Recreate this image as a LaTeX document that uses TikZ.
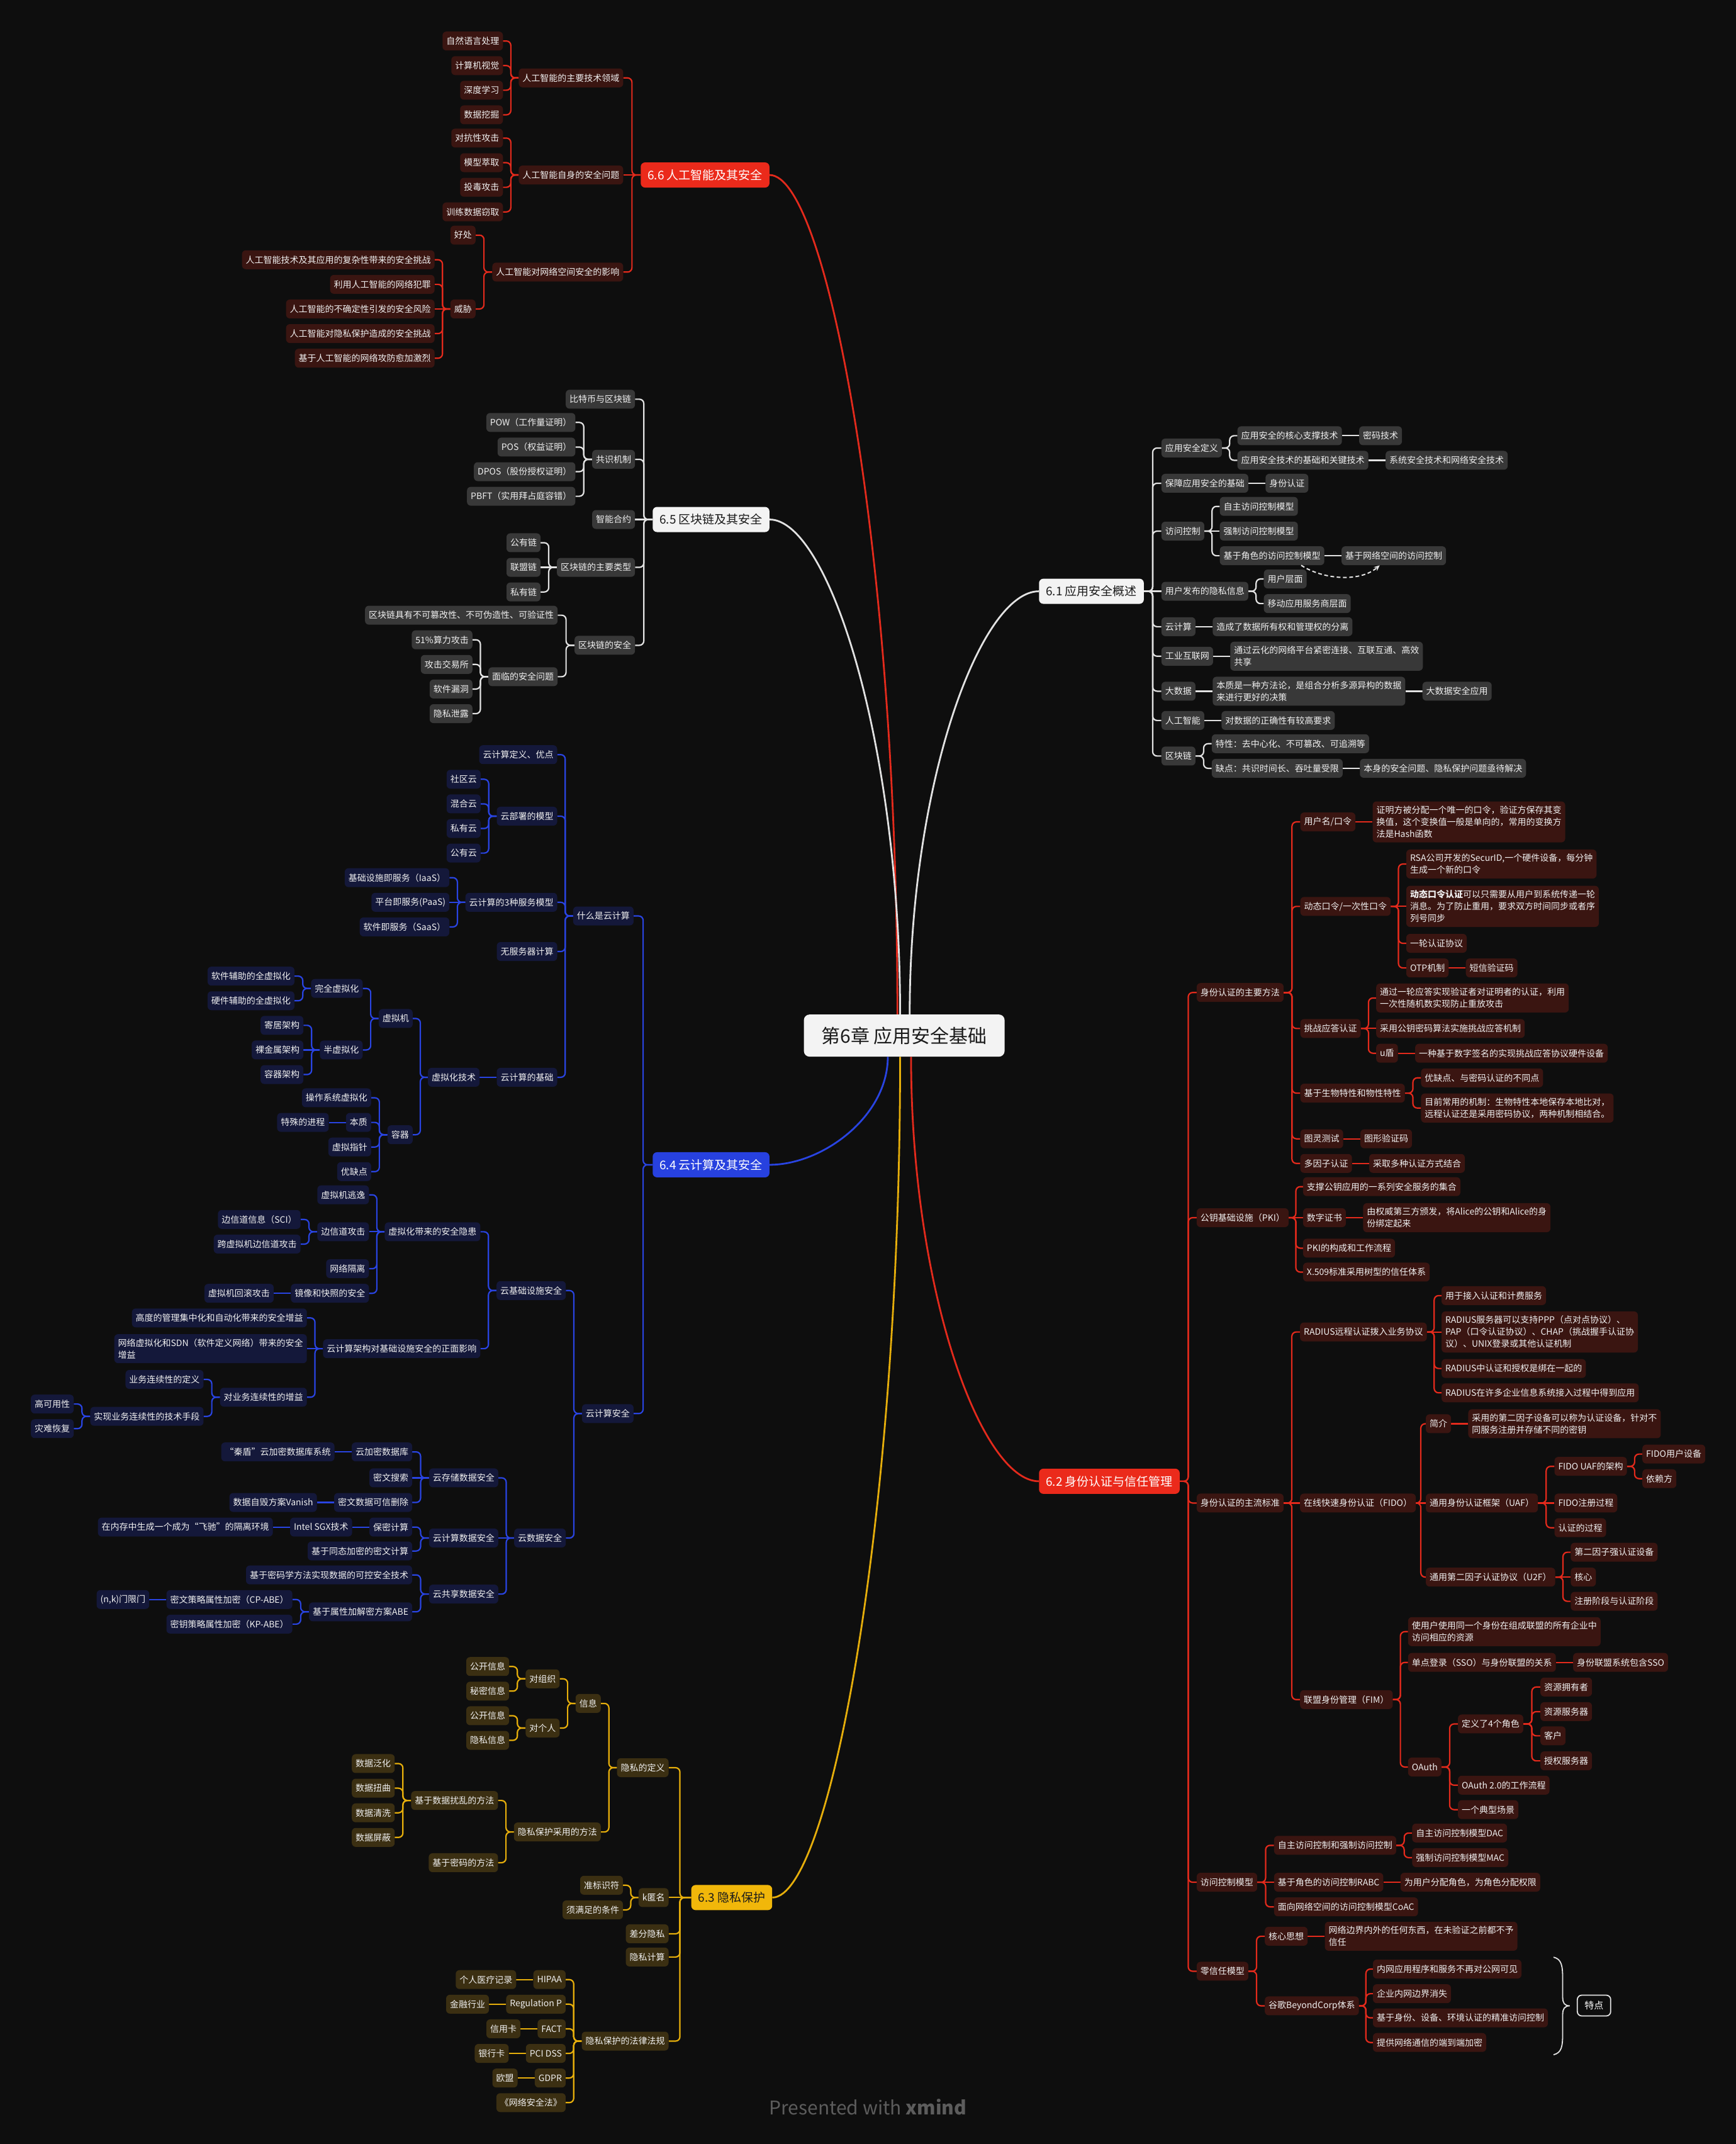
\documentclass[tikz,border=0pt]{standalone}
\usepackage{fontspec}
\setmainfont{Noto Sans CJK SC}
\usetikzlibrary{positioning,calc,arrows.meta}
\definecolor{colBg}{HTML}{0E0E0E}
\definecolor{colRed}{HTML}{EB2A1B}
\definecolor{colRline}{HTML}{E32A1C}
\definecolor{colRsub}{HTML}{3A1511}
\definecolor{colWht}{HTML}{F3F3F3}
\definecolor{colWline}{HTML}{E2E2E2}
\definecolor{colWsub}{HTML}{383838}
\definecolor{colBlu}{HTML}{2741DF}
\definecolor{colBline}{HTML}{2944E2}
\definecolor{colBsub}{HTML}{14183A}
\definecolor{colYel}{HTML}{F1B70A}
\definecolor{colYline}{HTML}{E6AE0B}
\definecolor{colYsub}{HTML}{3B2F12}
\definecolor{colTxt}{HTML}{F0F0F0}
\definecolor{colDark}{HTML}{1B1B1B}
\definecolor{colFoot}{HTML}{5C5C5C}
\pgfdeclarelayer{back}
\pgfdeclarelayer{bg}
\pgfsetlayers{back,bg,main}
\newcommand\ER[3]{\draw[#1] let \p1=(#2.east),\p2=(#3.west) in (\p1) -- ({(\x1+\x2)/2},\y1) |- (\p2);}
\newcommand\EL[3]{\draw[#1] let \p1=(#2.west),\p2=(#3.east) in (\p1) -- ({(\x1+\x2)/2},\y1) |- (\p2);}
\newcommand\SR[3]{\draw[#1] (#2.east) -- (#3.west);}
\newcommand\SL[3]{\draw[#1] (#2.west) -- (#3.east);}
\newcommand\CV[3]{\draw[#1] (#2) .. controls ($(#2)!0.55!(#2 |- #3)$) and ($(#3)!0.45!(#2 |- #3)$) .. (#3);}
\tikzset{
  nsub/.style={rounded corners=6pt, inner xsep=6pt, inner ysep=7pt, minimum height=30pt, font=\fontsize{14}{19}\selectfont, text=colTxt, align=left},
  nR/.style={nsub, fill=colRsub},
  nW/.style={nsub, fill=colWsub},
  nB/.style={nsub, fill=colBsub},
  nY/.style={nsub, fill=colYsub},
  ntop/.style={rounded corners=7pt, inner xsep=11pt, inner ysep=4pt, minimum height=40pt, font=\fontsize{19}{23}\selectfont},
  tR/.style={ntop, fill=colRed, text=white},
  tW/.style={ntop, fill=colWht, text=colDark},
  tB/.style={ntop, fill=colBlu, text=white},
  tY/.style={ntop, fill=colYel, text=colDark},
  LE/.style={anchor=east},
  RW/.style={anchor=west},
  conn/.style={line width=2.2pt, rounded corners=7pt},
  lR/.style={conn, draw=colRline},
  lW/.style={conn, draw=colWline},
  lB/.style={conn, draw=colBline},
  lY/.style={conn, draw=colYline},
  curv/.style={line width=2.8pt},
  vR/.style={curv, draw=colRline},
  vW/.style={curv, draw=colWline},
  vB/.style={curv, draw=colBline},
  vY/.style={curv, draw=colYline},
  rootnode/.style={fill=colWht, text=colDark, rounded corners=9pt, minimum width=319pt, minimum height=67pt, font=\fontsize{30}{34}\selectfont},
  sumbox/.style={draw=colWline, line width=1.8pt, fill=colBg, rounded corners=7pt, text=white, font=\fontsize{15}{18}\selectfont, minimum width=53pt, minimum height=33pt},
  relline/.style={draw=colWline, line width=2pt, dash pattern=on 6pt off 4pt, -{Stealth[length=9pt,width=8pt]}},
  bracel/.style={draw=colWline, line width=1.8pt},
  footer/.style={text=colFoot, font=\fontsize{30}{34}\selectfont}
}
\begin{document}
\begin{tikzpicture}[x=2.17244pt, y=-2.17244pt]
\begin{pgfonlayer}{back}
\fill[colBg] (0,0) rectangle (1270,1568.28);
\end{pgfonlayer}
\useasboundingbox (0,0) rectangle (1270,1568.28);

\node[rootnode] (c) at (661.5,757.5) {第6章 应用安全基础};

% ===== 6.6
\node[tR,LE] (a) at (563,128) {6.6 人工智能及其安全};
\node[nR,LE] (a1) at (456,57) {人工智能的主要技术领域};
\node[nR,LE] (a2) at (456,128) {人工智能自身的安全问题};
\node[nR,LE] (a3) at (456,199) {人工智能对网络空间安全的影响};
\node[nR,LE] (a11) at (368,30) {自然语言处理};
\node[nR,LE] (a12) at (368,48) {计算机视觉};
\node[nR,LE] (a13) at (368,66) {深度学习};
\node[nR,LE] (a14) at (368,84) {数据挖掘};
\node[nR,LE] (a21) at (368,101) {对抗性攻击};
\node[nR,LE] (a22) at (368,119) {模型萃取};
\node[nR,LE] (a23) at (368,137) {投毒攻击};
\node[nR,LE] (a24) at (368,155) {训练数据窃取};
\node[nR,LE] (a31) at (348,172) {好处};
\node[nR,LE] (a32) at (348,226) {威胁};
\node[nR,LE] (a321) at (318,190) {人工智能技术及其应用的复杂性带来的安全挑战};
\node[nR,LE] (a322) at (318,208) {利用人工智能的网络犯罪};
\node[nR,LE] (a323) at (318,226) {人工智能的不确定性引发的安全风险};
\node[nR,LE] (a324) at (318,244) {人工智能对隐私保护造成的安全挑战};
\node[nR,LE] (a325) at (318,262) {基于人工智能的网络攻防愈加激烈};

% ===== 6.5
\node[tW,LE] (b) at (563,380) {6.5 区块链及其安全};
\node[nW,LE] (b1) at (464.6,292) {比特币与区块链};
\node[nW,LE] (b2) at (464.6,336) {共识机制};
\node[nW,LE] (b3) at (464.6,380) {智能合约};
\node[nW,LE] (b4) at (464.6,415) {区块链的主要类型};
\node[nW,LE] (b5) at (464.6,472) {区块链的安全};
\node[nW,LE] (b21) at (421,309) {POW（工作量证明）};
\node[nW,LE] (b22) at (421,327) {POS（权益证明）};
\node[nW,LE] (b23) at (421,345) {DPOS（股份授权证明）};
\node[nW,LE] (b24) at (421,363) {PBFT（实用拜占庭容错）};
\node[nW,LE] (b41) at (395.5,397) {公有链};
\node[nW,LE] (b42) at (395.5,415) {联盟链};
\node[nW,LE] (b43) at (395.5,433) {私有链};
\node[nW,LE] (b51) at (408,450) {区块链具有不可篡改性、不可伪造性、可验证性};
\node[nW,LE] (b52) at (408,495) {面临的安全问题};
\node[nW,LE] (b521) at (345.7,468) {51\%算力攻击};
\node[nW,LE] (b522) at (345.7,486) {攻击交易所};
\node[nW,LE] (b523) at (345.7,504) {软件漏洞};
\node[nW,LE] (b524) at (345.7,522) {隐私泄露};

% ===== 6.4
\node[tB,LE] (d) at (563,852) {6.4 云计算及其安全};
\node[nB,LE] (d1) at (463.6,670) {什么是云计算};
\node[nB,LE] (d2) at (463.6,1034) {云计算安全};
\node[nB,LE] (d11) at (407.7,552) {云计算定义、优点};
\node[nB,LE] (d12) at (407.7,597) {云部署的模型};
\node[nB,LE] (d13) at (407.7,660) {云计算的3种服务模型};
\node[nB,LE] (d14) at (407.7,696) {无服务器计算};
\node[nB,LE] (d15) at (407.7,788) {云计算的基础};
\node[nB,LE] (d121) at (351.7,570) {社区云};
\node[nB,LE] (d122) at (351.7,588) {混合云};
\node[nB,LE] (d123) at (351.7,606) {私有云};
\node[nB,LE] (d124) at (351.7,624) {公有云};
\node[nB,LE] (d131) at (328.8,642) {基础设施即服务（IaaS）};
\node[nB,LE] (d132) at (328.8,660) {平台即服务(PaaS)};
\node[nB,LE] (d133) at (328.8,678) {软件即服务（SaaS）};
\node[nB,left=27pt of d15] (v) {虚拟化技术};
\node[nB,LE] (v1) at (302,745) {虚拟机};
\node[nB,LE] (v2) at (302,830) {容器};
\node[nB,LE] (v11) at (265.4,723) {完全虚拟化};
\node[nB,LE] (v12) at (265.4,768) {半虚拟化};
\node[nB,LE] (v111) at (215.5,714) {软件辅助的全虚拟化};
\node[nB,LE] (v112) at (215.5,732) {硬件辅助的全虚拟化};
\node[nB,LE] (v121) at (222,750) {寄居架构};
\node[nB,LE] (v122) at (222,768) {裸金属架构};
\node[nB,LE] (v123) at (222,786) {容器架构};
\node[nB,LE] (v21) at (271.6,803) {操作系统虚拟化};
\node[nB,LE] (v22) at (271.6,821) {本质};
\node[nB,LE] (v23) at (271.6,839) {虚拟指针};
\node[nB,LE] (v24) at (271.6,857) {优缺点};
\node[nB,left=27pt of v22] (v221) {特殊的进程};
\node[nB,LE] (d21) at (414,944) {云基础设施安全};
\node[nB,LE] (d22) at (414,1125) {云数据安全};
\node[nB,LE] (d211) at (351.5,901) {虚拟化带来的安全隐患};
\node[nB,LE] (d212) at (351.5,986.5) {云计算架构对基础设施安全的正面影响};
\node[nB,LE] (x1) at (270,874) {虚拟机逃逸};
\node[nB,LE] (x2) at (270,901) {边信道攻击};
\node[nB,LE] (x3) at (270,928) {网络隔离};
\node[nB,LE] (x4) at (270,946) {镜像和快照的安全};
\node[nB,LE] (x21) at (220,892) {边信道信息（SCI）};
\node[nB,LE] (x22) at (220,910) {跨虚拟机边信道攻击};
\node[nB,left=27pt of x4] (x41) {虚拟机回滚攻击};
\node[nB,LE] (y1) at (224.6,964) {高度的管理集中化和自动化带来的安全增益};
\node[nB,LE] (y2) at (224.6,986.5) {网络虚拟化和SDN（软件定义网络）带来的安全\\增益};
\node[nB,LE] (y3) at (224.6,1022) {对业务连续性的增益};
\node[nB,LE] (y31) at (149,1009) {业务连续性的定义};
\node[nB,LE] (y32) at (149,1036) {实现业务连续性的技术手段};
\node[nB,LE] (y321) at (54,1027) {高可用性};
\node[nB,LE] (y322) at (54,1045) {灾难恢复};
\node[nB,LE] (z1) at (364.6,1081) {云存储数据安全};
\node[nB,LE] (z2) at (364.6,1125) {云计算数据安全};
\node[nB,LE] (z3) at (364.6,1166) {云共享数据安全};
\node[nB,LE] (z11) at (301.6,1062) {云加密数据库};
\node[nB,LE] (z12) at (301.6,1081) {密文搜索};
\node[nB,LE] (z13) at (301.6,1099) {密文数据可信删除};
\node[nB,left=27pt of z11] (z111) {“秦盾”云加密数据库系统};
\node[nB,left=27pt of z13] (z131) {数据自毁方案Vanish};
\node[nB,LE] (z21) at (301.6,1117) {保密计算};
\node[nB,LE] (z22) at (301.6,1134.5) {基于同态加密的密文计算};
\node[nB,left=27pt of z21] (z211) {Intel SGX技术};
\node[nB,left=27pt of z211] (z2111) {在内存中生成一个成为“飞驰”的隔离环境};
\node[nB,LE] (z31) at (301.6,1152) {基于密码学方法实现数据的可控安全技术};
\node[nB,LE] (z32) at (301.6,1179) {基于属性加解密方案ABE};
\node[nB,LE] (z321) at (214,1170) {密文策略属性加密（CP-ABE）};
\node[nB,LE] (z322) at (214,1188) {密钥策略属性加密（KP-ABE）};
\node[nB,left=27pt of z321] (z3211) {(n,k)门限门};

% ===== 6.3
\node[tY,LE] (e) at (565,1388) {6.3 隐私保护};
\node[nY,LE] (e1) at (489.2,1293) {隐私的定义};
\node[nY,LE] (e2) at (489.2,1388) {k匿名};
\node[nY,LE] (e3) at (489.2,1414.5) {差分隐私};
\node[nY,LE] (e4) at (489.2,1431.5) {隐私计算};
\node[nY,LE] (e5) at (489.2,1493) {隐私保护的法律法规};
\node[nY,LE] (e11) at (439.6,1246) {信息};
\node[nY,LE] (e12) at (439.6,1340) {隐私保护采用的方法};
\node[nY,LE] (e111) at (409.5,1228) {对组织};
\node[nY,LE] (e112) at (409.5,1264) {对个人};
\node[nY,LE] (e1111) at (372.5,1219) {公开信息};
\node[nY,LE] (e1112) at (372.5,1237) {秘密信息};
\node[nY,LE] (e1121) at (372.5,1255) {公开信息};
\node[nY,LE] (e1122) at (372.5,1273) {隐私信息};
\node[nY,LE] (e121) at (364.4,1317) {基于数据扰乱的方法};
\node[nY,LE] (e122) at (364.4,1362.5) {基于密码的方法};
\node[nY,LE] (e1211) at (288.8,1290) {数据泛化};
\node[nY,LE] (e1212) at (288.8,1308) {数据扭曲};
\node[nY,LE] (e1213) at (288.8,1326) {数据清洗};
\node[nY,LE] (e1214) at (288.8,1344) {数据屏蔽};
\node[nY,LE] (e21) at (455.8,1379) {准标识符};
\node[nY,LE] (e22) at (455.8,1397) {须满足的条件};
\node[nY,LE] (e51) at (413.9,1448) {HIPAA};
\node[nY,LE] (e52) at (413.9,1466) {Regulation P};
\node[nY,LE] (e53) at (413.9,1484) {FACT};
\node[nY,LE] (e54) at (413.9,1502) {PCI DSS};
\node[nY,LE] (e55) at (413.9,1520) {GDPR};
\node[nY,LE] (e56) at (413.9,1538) {《网络安全法》};
\node[nY,left=27pt of e51] (e511) {个人医疗记录};
\node[nY,left=27pt of e52] (e521) {金融行业};
\node[nY,left=27pt of e53] (e531) {信用卡};
\node[nY,left=27pt of e54] (e541) {银行卡};
\node[nY,left=27pt of e55] (e551) {欧盟};

% ===== 6.1
\node[tW,RW] (f) at (760,432.5) {6.1 应用安全概述};
\node[nW,RW] (f1) at (849.6,327.7) {应用安全定义};
\node[nW,RW] (f2) at (849.6,353.5) {保障应用安全的基础};
\node[nW,RW] (f3) at (849.6,388.5) {访问控制};
\node[nW,RW] (f4) at (849.6,432.5) {用户发布的隐私信息};
\node[nW,RW] (f5) at (849.6,458.4) {云计算};
\node[nW,RW] (f6) at (849.6,480) {工业互联网};
\node[nW,RW] (f7) at (849.6,505.6) {大数据};
\node[nW,RW] (f8) at (849.6,527) {人工智能};
\node[nW,RW] (f9) at (849.6,553) {区块链};
\node[nW,RW] (f11) at (905.2,318.7) {应用安全的核心支撑技术};
\node[nW,RW] (f12) at (905.2,336.7) {应用安全技术的基础和关键技术};
\node[nW,right=27pt of f11] (f111) {密码技术};
\node[nW,right=27pt of f12] (f121) {系统安全技术和网络安全技术};
\node[nW,right=27pt of f2] (f21) {身份认证};
\node[nW,RW] (f31) at (892.3,370.4) {自主访问控制模型};
\node[nW,RW] (f32) at (892.3,388.5) {强制访问控制模型};
\node[nW,RW] (f33) at (892.3,406.5) {基于角色的访问控制模型};
\node[nW,right=27pt of f33] (f331) {基于网络空间的访问控制};
\node[nW,RW] (f41) at (924.5,423.5) {用户层面};
\node[nW,RW] (f42) at (924.5,441.5) {移动应用服务商层面};
\node[nW,right=27pt of f5] (f51) {造成了数据所有权和管理权的分离};
\node[nW,right=27pt of f6] (f61) {通过云化的网络平台紧密连接、互联互通、高效\\共享};
\node[nW,right=27pt of f7] (f71) {本质是一种方法论，是组合分析多源异构的数据\\来进行更好的决策};
\node[nW,right=27pt of f71] (f711) {大数据安全应用};
\node[nW,right=27pt of f8] (f81) {对数据的正确性有较高要求};
\node[nW,RW] (f91) at (886.4,544) {特性：去中心化、不可篡改、可追溯等};
\node[nW,RW] (f92) at (886.4,562) {缺点：共识时间长、吞吐量受限};
\node[nW,right=27pt of f92] (f921) {本身的安全问题、隐私保护问题亟待解决};

% ===== 6.2
\node[tR,RW] (g) at (760,1083.5) {6.2 身份认证与信任管理};
\node[nR,RW] (g1) at (875.4,726) {身份认证的主要方法};
\node[nR,RW] (g2) at (875.4,890.7) {公钥基础设施（PKI）};
\node[nR,RW] (g3) at (875.4,1099.4) {身份认证的主流标准};
\node[nR,RW] (g4) at (875.4,1376.8) {访问控制模型};
\node[nR,RW] (g5) at (875.4,1441.9) {零信任模型};
\node[nR,RW] (h1) at (951.2,601.2) {用户名/口令};
\node[nR,RW] (h2) at (951.2,663) {动态口令/一次性口令};
\node[nR,RW] (h3) at (951.2,752.3) {挑战应答认证};
\node[nR,RW] (h4) at (951.2,799.6) {基于生物特性和物性特性};
\node[nR,RW] (h5) at (951.2,833) {图灵测试};
\node[nR,RW] (h6) at (951.2,851) {多因子认证};
\node[nR,right=27pt of h1] (h11) {证明方被分配一个唯一的口令，验证方保存其变\\换值，这个变换值一般是单向的，常用的变换方\\法是Hash函数};
\node[nR,RW] (h21) at (1028.7,632) {RSA公司开发的SecurID,一个硬件设备，每分钟\\生成一个新的口令};
\node[nR,RW] (h22) at (1028.7,663) {{\bfseries 动态口令认证}可以只需要从用户到系统传递一轮\\消息。为了防止重用，要求双方时间同步或者序\\列号同步};
\node[nR,RW] (h23) at (1028.7,690) {一轮认证协议};
\node[nR,RW] (h24) at (1028.7,708) {OTP机制};
\node[nR,right=27pt of h24] (h241) {短信验证码};
\node[nR,RW] (h31) at (1006.7,730) {通过一轮应答实现验证者对证明者的认证，利用\\一次性随机数实现防止重放攻击};
\node[nR,RW] (h32) at (1006.7,752.3) {采用公钥密码算法实施挑战应答机制};
\node[nR,RW] (h33) at (1006.7,770.4) {u盾};
\node[nR,right=27pt of h33] (h331) {一种基于数字签名的实现挑战应答协议硬件设备};
\node[nR,RW] (h41) at (1039.5,788.4) {优缺点、与密码认证的不同点};
\node[nR,RW] (h42) at (1039.5,810.5) {目前常用的机制：生物特性本地保存本地比对，\\远程认证还是采用密码协议，两种机制相结合。};
\node[nR,right=27pt of h5] (h51) {图形验证码};
\node[nR,right=27pt of h6] (h61) {采取多种认证方式结合};
\node[nR,RW] (p1) at (953.2,868) {支撑公钥应用的一系列安全服务的集合};
\node[nR,RW] (p2) at (953.2,890.7) {数字证书};
\node[nR,right=27pt of p2] (p21) {由权威第三方颁发，将Alice的公钥和Alice的身\\份绑定起来};
\node[nR,RW] (p3) at (953.2,913) {PKI的构成和工作流程};
\node[nR,RW] (p4) at (953.2,930.5) {X.509标准采用树型的信任体系};
\node[nR,RW] (q1) at (951,974.3) {RADIUS远程认证拨入业务协议};
\node[nR,RW] (q2) at (951,1099.4) {在线快速身份认证（FIDO）};
\node[nR,RW] (q3) at (951,1243.2) {联盟身份管理（FIM）};
\node[nR,RW] (q11) at (1054.5,947.7) {用于接入认证和计费服务};
\node[nR,RW] (q12) at (1054.5,974.3) {RADIUS服务器可以支持PPP（点对点协议）、\\PAP（口令认证协议）、CHAP（挑战握手认证协\\议）、UNIX登录或其他认证机制};
\node[nR,RW] (q13) at (1054.5,1001) {RADIUS中认证和授权是绑在一起的};
\node[nR,RW] (q14) at (1054.5,1018.8) {RADIUS在许多企业信息系统接入过程中得到应用};
\node[nR,RW] (r1) at (1043,1041.4) {简介};
\node[nR,right=27pt of r1] (r11) {采用的第二因子设备可以称为认证设备，针对不\\同服务注册并存储不同的密钥};
\node[nR,RW] (r2) at (1043,1099.4) {通用身份认证框架（UAF）};
\node[nR,RW] (r3) at (1043,1153.6) {通用第二因子认证协议（U2F）};
\node[nR,RW] (r21) at (1137.1,1072.6) {FIDO UAF的架构};
\node[nR,RW] (r22) at (1137.1,1099.4) {FIDO注册过程};
\node[nR,RW] (r23) at (1137.1,1117.5) {认证的过程};
\node[nR,RW] (r211) at (1201.4,1063.6) {FIDO用户设备};
\node[nR,RW] (r212) at (1201.4,1081.6) {依赖方};
\node[nR,RW] (r31) at (1149,1135.4) {第二因子强认证设备};
\node[nR,RW] (r32) at (1149,1153.6) {核心};
\node[nR,RW] (r33) at (1149,1171.3) {注册阶段与认证阶段};
\node[nR,RW] (s1) at (1030,1193.5) {使用户使用同一个身份在组成联盟的所有企业中\\访问相应的资源};
\node[nR,RW] (s2) at (1030,1216) {单点登录（SSO）与身份联盟的关系};
\node[nR,right=27pt of s2] (s21) {身份联盟系统包含SSO};
\node[nR,RW] (s3) at (1030,1292.5) {OAuth};
\node[nR,RW] (s31) at (1066.5,1261) {定义了4个角色};
\node[nR,RW] (s32) at (1066.5,1305.8) {OAuth 2.0的工作流程};
\node[nR,RW] (s33) at (1066.5,1323.7) {一个典型场景};
\node[nR,RW] (s311) at (1126.8,1234) {资源拥有者};
\node[nR,RW] (s312) at (1126.8,1252) {资源服务器};
\node[nR,RW] (s313) at (1126.8,1269.7) {客户};
\node[nR,RW] (s314) at (1126.8,1288) {授权服务器};
\node[nR,RW] (t1) at (932,1349.8) {自主访问控制和强制访问控制};
\node[nR,RW] (t2) at (932,1376.8) {基于角色的访问控制RABC};
\node[nR,RW] (t3) at (932,1394.8) {面向网络空间的访问控制模型CoAC};
\node[nR,right=27pt of t2] (t21) {为用户分配角色，为角色分配权限};
\node[nR,RW] (t11) at (1033,1340.8) {自主访问控制模型DAC};
\node[nR,RW] (t12) at (1033,1358.8) {强制访问控制模型MAC};
\node[nR,RW] (u1) at (925.2,1416.3) {核心思想};
\node[nR,right=27pt of u1] (u11) {网络边界内外的任何东西，在未验证之前都不予\\信任};
\node[nR,RW] (u2) at (925.2,1467.2) {谷歌BeyondCorp体系};
\node[nR,RW] (u21) at (1004.3,1440.3) {内网应用程序和服务不再对公网可见};
\node[nR,RW] (u22) at (1004.3,1458.3) {企业内网边界消失};
\node[nR,RW] (u23) at (1004.3,1476) {基于身份、设备、环境认证的精准访问控制};
\node[nR,RW] (u24) at (1004.3,1494) {提供网络通信的端到端加密};

% summary
\node[sumbox,anchor=west] (td) at (1153.5,1467) {特点};
\coordinate (brtip) at (1148.4,1467.2);
\draw[bracel] (1136.5,1431.6) .. controls (1142.5,1433) and (1143.2,1438) .. (1143.2,1448) -- (1143.2,1461) .. controls (1143.2,1465) and (1144.5,1467.2) .. (brtip) .. controls (1144.5,1467.2) and (1143.2,1469.5) .. (1143.2,1473.5) -- (1143.2,1487) .. controls (1143.2,1497) and (1142.5,1501.5) .. (1136.5,1503);

% footer
\node[footer] (ft) at (635,1541) {Presented with \textbf{xmind}};

\begin{pgfonlayer}{bg}
\coordinate (sNW) at ($(c.north)+(-5,0)$);
\coordinate (sNW2) at ($(c.north)+(-3,0)$);
\coordinate (sNE) at ($(c.north)+(4,0)$);
\coordinate (sSW) at ($(c.south)+(-12,0)$);
\coordinate (sSW2) at ($(c.south)+(-3,0)$);
\coordinate (sSE) at ($(c.south)+(5,0)$);
\CV{vR}{sNW}{a.east}
\CV{vW}{sNW2}{b.east}
\CV{vW}{sNE}{f.west}
\CV{vB}{sSW}{d.east}
\CV{vY}{sSW2}{e.east}
\CV{vR}{sSE}{g.west}
% 6.6
\EL{lR}{a}{a1} \SL{lR}{a}{a2} \EL{lR}{a}{a3}
\EL{lR}{a1}{a11} \EL{lR}{a1}{a12} \EL{lR}{a1}{a13} \EL{lR}{a1}{a14}
\EL{lR}{a2}{a21} \EL{lR}{a2}{a22} \EL{lR}{a2}{a23} \EL{lR}{a2}{a24}
\EL{lR}{a3}{a31} \EL{lR}{a3}{a32}
\EL{lR}{a32}{a321} \EL{lR}{a32}{a322} \SL{lR}{a32}{a323} \EL{lR}{a32}{a324} \EL{lR}{a32}{a325}
% 6.5
\EL{lW}{b}{b1} \EL{lW}{b}{b2} \SL{lW}{b}{b3} \EL{lW}{b}{b4} \EL{lW}{b}{b5}
\EL{lW}{b2}{b21} \EL{lW}{b2}{b22} \EL{lW}{b2}{b23} \EL{lW}{b2}{b24}
\EL{lW}{b4}{b41} \SL{lW}{b4}{b42} \EL{lW}{b4}{b43}
\EL{lW}{b5}{b51} \EL{lW}{b5}{b52}
\EL{lW}{b52}{b521} \EL{lW}{b52}{b522} \EL{lW}{b52}{b523} \EL{lW}{b52}{b524}
% 6.4
\EL{lB}{d}{d1} \EL{lB}{d}{d2}
\EL{lB}{d1}{d11} \EL{lB}{d1}{d12} \EL{lB}{d1}{d13} \EL{lB}{d1}{d14} \EL{lB}{d1}{d15}
\EL{lB}{d12}{d121} \EL{lB}{d12}{d122} \EL{lB}{d12}{d123} \EL{lB}{d12}{d124}
\EL{lB}{d13}{d131} \SL{lB}{d13}{d132} \EL{lB}{d13}{d133}
\SL{lB}{d15}{v}
\EL{lB}{v}{v1} \EL{lB}{v}{v2}
\EL{lB}{v1}{v11} \EL{lB}{v1}{v12}
\EL{lB}{v11}{v111} \EL{lB}{v11}{v112}
\EL{lB}{v12}{v121} \SL{lB}{v12}{v122} \EL{lB}{v12}{v123}
\EL{lB}{v2}{v21} \EL{lB}{v2}{v22} \EL{lB}{v2}{v23} \EL{lB}{v2}{v24}
\SL{lB}{v22}{v221}
\EL{lB}{d2}{d21} \EL{lB}{d2}{d22}
\EL{lB}{d21}{d211} \EL{lB}{d21}{d212}
\EL{lB}{d211}{x1} \SL{lB}{d211}{x2} \EL{lB}{d211}{x3} \EL{lB}{d211}{x4}
\EL{lB}{x2}{x21} \EL{lB}{x2}{x22}
\SL{lB}{x4}{x41}
\EL{lB}{d212}{y1} \SL{lB}{d212}{y2} \EL{lB}{d212}{y3}
\EL{lB}{y3}{y31} \EL{lB}{y3}{y32}
\EL{lB}{y32}{y321} \EL{lB}{y32}{y322}
\EL{lB}{d22}{z1} \SL{lB}{d22}{z2} \EL{lB}{d22}{z3}
\EL{lB}{z1}{z11} \SL{lB}{z1}{z12} \EL{lB}{z1}{z13}
\SL{lB}{z11}{z111} \SL{lB}{z13}{z131}
\EL{lB}{z2}{z21} \EL{lB}{z2}{z22}
\SL{lB}{z21}{z211} \SL{lB}{z211}{z2111}
\EL{lB}{z3}{z31} \EL{lB}{z3}{z32}
\EL{lB}{z32}{z321} \EL{lB}{z32}{z322}
\SL{lB}{z321}{z3211}
% 6.3
\EL{lY}{e}{e1} \SL{lY}{e}{e2} \EL{lY}{e}{e3} \EL{lY}{e}{e4} \EL{lY}{e}{e5}
\EL{lY}{e1}{e11} \EL{lY}{e1}{e12}
\EL{lY}{e11}{e111} \EL{lY}{e11}{e112}
\EL{lY}{e111}{e1111} \EL{lY}{e111}{e1112}
\EL{lY}{e112}{e1121} \EL{lY}{e112}{e1122}
\EL{lY}{e12}{e121} \EL{lY}{e12}{e122}
\EL{lY}{e121}{e1211} \EL{lY}{e121}{e1212} \EL{lY}{e121}{e1213} \EL{lY}{e121}{e1214}
\EL{lY}{e2}{e21} \EL{lY}{e2}{e22}
\EL{lY}{e5}{e51} \EL{lY}{e5}{e52} \EL{lY}{e5}{e53} \EL{lY}{e5}{e54} \EL{lY}{e5}{e55} \EL{lY}{e5}{e56}
\SL{lY}{e51}{e511} \SL{lY}{e52}{e521} \SL{lY}{e53}{e531} \SL{lY}{e54}{e541} \SL{lY}{e55}{e551}
% 6.1
\ER{lW}{f}{f1} \ER{lW}{f}{f2} \ER{lW}{f}{f3} \SR{lW}{f}{f4} \ER{lW}{f}{f5} \ER{lW}{f}{f6} \ER{lW}{f}{f7} \ER{lW}{f}{f8} \ER{lW}{f}{f9}
\ER{lW}{f1}{f11} \ER{lW}{f1}{f12}
\SR{lW}{f11}{f111} \SR{lW}{f12}{f121}
\SR{lW}{f2}{f21}
\ER{lW}{f3}{f31} \SR{lW}{f3}{f32} \ER{lW}{f3}{f33}
\SR{lW}{f33}{f331}
\ER{lW}{f4}{f41} \ER{lW}{f4}{f42}
\SR{lW}{f5}{f51} \SR{lW}{f6}{f61} \SR{lW}{f7}{f71} \SR{lW}{f71}{f711} \SR{lW}{f8}{f81}
\ER{lW}{f9}{f91} \ER{lW}{f9}{f92}
\SR{lW}{f92}{f921}
% 6.2
\ER{lR}{g}{g1} \ER{lR}{g}{g2} \ER{lR}{g}{g3} \ER{lR}{g}{g4} \ER{lR}{g}{g5}
\ER{lR}{g1}{h1} \ER{lR}{g1}{h2} \ER{lR}{g1}{h3} \ER{lR}{g1}{h4} \ER{lR}{g1}{h5} \ER{lR}{g1}{h6}
\SR{lR}{h1}{h11}
\ER{lR}{h2}{h21} \SR{lR}{h2}{h22} \ER{lR}{h2}{h23} \ER{lR}{h2}{h24}
\SR{lR}{h24}{h241}
\ER{lR}{h3}{h31} \SR{lR}{h3}{h32} \ER{lR}{h3}{h33}
\SR{lR}{h33}{h331}
\ER{lR}{h4}{h41} \ER{lR}{h4}{h42}
\SR{lR}{h5}{h51} \SR{lR}{h6}{h61}
\ER{lR}{g2}{p1} \SR{lR}{g2}{p2} \ER{lR}{g2}{p3} \ER{lR}{g2}{p4}
\SR{lR}{p2}{p21}
\ER{lR}{g3}{q1} \SR{lR}{g3}{q2} \ER{lR}{g3}{q3}
\ER{lR}{q1}{q11} \SR{lR}{q1}{q12} \ER{lR}{q1}{q13} \ER{lR}{q1}{q14}
\ER{lR}{q2}{r1} \SR{lR}{q2}{r2} \ER{lR}{q2}{r3}
\SR{lR}{r1}{r11}
\ER{lR}{r2}{r21} \SR{lR}{r2}{r22} \ER{lR}{r2}{r23}
\ER{lR}{r21}{r211} \ER{lR}{r21}{r212}
\ER{lR}{r3}{r31} \SR{lR}{r3}{r32} \ER{lR}{r3}{r33}
\ER{lR}{q3}{s1} \ER{lR}{q3}{s2} \ER{lR}{q3}{s3}
\SR{lR}{s2}{s21}
\ER{lR}{s3}{s31} \ER{lR}{s3}{s32} \ER{lR}{s3}{s33}
\ER{lR}{s31}{s311} \ER{lR}{s31}{s312} \ER{lR}{s31}{s313} \ER{lR}{s31}{s314}
\ER{lR}{g4}{t1} \SR{lR}{g4}{t2} \ER{lR}{g4}{t3}
\SR{lR}{t2}{t21}
\ER{lR}{t1}{t11} \ER{lR}{t1}{t12}
\ER{lR}{g5}{u1} \ER{lR}{g5}{u2}
\SR{lR}{u1}{u11}
\ER{lR}{u2}{u21} \ER{lR}{u2}{u22} \ER{lR}{u2}{u23} \ER{lR}{u2}{u24}
\end{pgfonlayer}
% relationship
\draw[relline] ($(f33.south east)+(-17,0)$) .. controls (968,424) and (995,426) .. ($(f331.south west)+(28,0)$);
\end{tikzpicture}
\end{document}
